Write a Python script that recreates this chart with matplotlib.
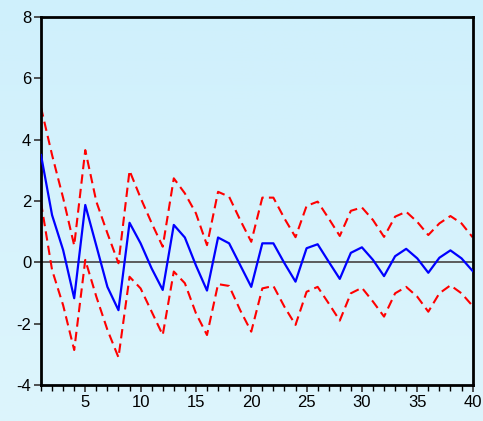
import numpy as np
import matplotlib
matplotlib.use("Agg")
import matplotlib.pyplot as plt
from matplotlib.ticker import MultipleLocator
from matplotlib.colors import LinearSegmentedColormap

plt.rcParams['font.family'] = ['Liberation Sans', 'DejaVu Sans']
plt.rcParams['axes.unicode_minus'] = False

periods = list(range(1, 41))
response = [3.5, 1.54, 0.4, -1.17, 1.87, 0.54, -0.8, -1.56, 1.29, 0.62,
            -0.2, -0.9, 1.22, 0.81, -0.1, -0.92, 0.81, 0.62, -0.09, -0.8,
            0.62, 0.62, -0.03, -0.63, 0.46, 0.59, 0.02, -0.54, 0.31, 0.49,
            0.08, -0.45, 0.2, 0.44, 0.13, -0.34, 0.15, 0.39, 0.13, -0.28]
upper = [5.05, 3.5, 2.1, 0.55, 3.66, 1.98, 0.95, -0.03, 2.99, 2.1,
         1.28, 0.51, 2.74, 2.25, 1.6, 0.56, 2.3, 2.14, 1.38, 0.67,
         2.11, 2.11, 1.43, 0.82, 1.84, 1.98, 1.43, 0.86, 1.68, 1.79,
         1.38, 0.83, 1.49, 1.65, 1.32, 0.89, 1.27, 1.51, 1.27, 0.82]
lower = [1.95, -0.25, -1.4, -2.86, 0.08, -1.12, -2.2, -3.1, -0.47, -0.85,
         -1.61, -2.37, -0.3, -0.68, -1.66, -2.37, -0.71, -0.77, -1.56, -2.26,
         -0.85, -0.77, -1.45, -2.04, -0.96, -0.8, -1.34, -1.9, -1.01, -0.83,
         -1.28, -1.77, -1.01, -0.8, -1.12, -1.61, -1.01, -0.75, -1.01, -1.42]
x_ticks = [5, 10, 15, 20, 25, 30, 35, 40]
y_ticks = [-4, -2, 0, 2, 4, 6, 8]

fig = plt.figure(figsize=(4.83, 4.21), dpi=100)
# background gradient
bg = fig.add_axes([0, 0, 1, 1], zorder=-10)
grad = np.linspace(0, 1, 256).reshape(-1, 1)
cmap = LinearSegmentedColormap.from_list('bg', ['#CFF0FC', '#DDF5FC'])
bg.imshow(grad, aspect='auto', cmap=cmap, extent=[0, 1, 0, 1], origin='upper')
bg.axis('off')

ax = fig.add_axes([0.0849, 0.0855, 0.8935, 0.8741])
ax.patch.set_alpha(0)
ax.axhline(0, color='#505050', lw=1.3, zorder=1)
ax.plot(periods, upper, color='#FF0000', lw=1.5, ls=(0, (4.5, 2.5)), zorder=2)
ax.plot(periods, lower, color='#FF0000', lw=1.5, ls=(0, (4.5, 2.5)), zorder=2)
ax.plot(periods, response, color='#0000FF', lw=1.6, zorder=3)

ax.set_xlim(1, 40)
ax.set_ylim(-4, 8)
ax.set_xticks(x_ticks)
ax.set_yticks(y_ticks)
ax.xaxis.set_minor_locator(MultipleLocator(1))
ax.tick_params(axis='both', which='major', labelsize=12, direction='out',
               length=5, width=1.2, color='#333333', pad=2)
ax.tick_params(axis='x', which='minor', direction='out', length=4, width=1, color='black')
ax.tick_params(axis='x', which='major', length=5)
for s in ax.spines.values():
    s.set_linewidth(2)
    s.set_color('black')

fig.savefig('out.png', dpi=100)
